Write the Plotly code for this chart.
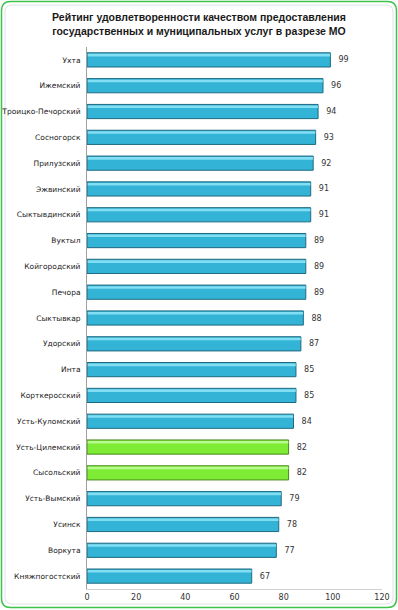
import plotly.graph_objects as go

categories = ["Ухта", "Ижемский", "Троицко-Печорский", "Сосногорск", "Прилузский",
              "Эжвинский", "Сыктывдинский", "Вуктыл", "Койгородский", "Печора",
              "Сыктывкар", "Удорский", "Инта", "Корткеросский", "Усть-Куломский",
              "Усть-Цилемский", "Сысольский", "Усть-Вымский", "Усинск", "Воркута",
              "Княжпогостский"]
values = [99, 96, 94, 93, 92, 91, 91, 89, 89, 89, 88, 87, 85, 85, 84, 82, 82, 79, 78, 77, 67]
highlighted = ["Усть-Цилемский", "Сысольский"]
x_ticks = [0, 20, 40, 60, 80, 100, 120]
title = "Рейтинг удовлетворенности качеством предоставления<br>государственных и муниципальных услуг в разрезе МО"

blue, blue_edge, blue_light = "#33b3d5", "#1d6a80", "#82def3"
green, green_edge, green_light = "#7eec35", "#4a8a1e", "#b8fa90"
colors = [green if c in highlighted else blue for c in categories]
edges = [green_edge if c in highlighted else blue_edge for c in categories]
lights = [green_light if c in highlighted else blue_light for c in categories]

L, R, T, B = 87, 16, 47, 21
W, H = 398, 610
pw, ph = W - L - R, H - T - B
BW = 0.55


def px(x):
    return (x - L) / pw


def py(y):
    return (H - B - y) / ph


def rounded(a, b, r):
    return (f"M {-a + r},{-b} L {a - r},{-b} Q {a},{-b} {a},{-b + r} "
            f"L {a},{b - r} Q {a},{b} {a - r},{b} L {-a + r},{b} "
            f"Q {-a},{b} {-a},{b - r} L {-a},{-b + r} Q {-a},{-b} {-a + r},{-b} Z")


fig = go.Figure()
fig.add_trace(go.Bar(
    y=categories, x=values, orientation="h",
    marker=dict(color=colors, line=dict(color=edges, width=1)),
    text=["  " + str(v) for v in values], textposition="outside",
    textfont=dict(family="DejaVu Sans", size=8, color="#333333"),
    cliponaxis=False, width=BW, offset=-BW / 2,
))
fig.add_trace(go.Bar(
    y=categories, x=[v - 0.4 for v in values], base=0.3, orientation="h",
    marker=dict(color=lights, line=dict(width=0)),
    width=0.1, offset=-BW / 2 + 0.04, hoverinfo="skip",
))

cx, cy = px(W / 2), py(304.5)
fig.update_layout(
    width=W, height=H,
    margin=dict(l=L, r=R, t=T, b=B),
    paper_bgcolor="white", plot_bgcolor="white",
    showlegend=False, barmode="overlay",
    title=dict(text=title, x=0.5, xanchor="center", y=1 - 21 / H, yanchor="top",
               font=dict(family="Liberation Sans", size=10.5, color="#1a1a1a", weight="bold")),
    xaxis=dict(range=[0, 120], tickvals=x_ticks, showgrid=False, zeroline=False,
               showline=True, linecolor="#d0d0d0", linewidth=1, automargin=False,
               tickfont=dict(family="DejaVu Sans", size=8, color="#333333"),
               ticks="", ticklen=0),
    yaxis=dict(autorange="reversed", showgrid=False, showline=True, automargin=False,
               linecolor="#a0a0a0", linewidth=1, ticks="outside", ticklen=4,
               tickcolor="rgba(0,0,0,0)",
               tickfont=dict(family="DejaVu Sans", size=7.5, color="#222222")),
    shapes=[
        dict(type="path", xref="paper", yref="paper", xsizemode="pixel", ysizemode="pixel",
             xanchor=cx, yanchor=cy, path=rounded(197.5, 303, 9),
             line=dict(color="#3cc44a", width=1.5), layer="below"),
        dict(type="path", xref="paper", yref="paper", xsizemode="pixel", ysizemode="pixel",
             xanchor=cx, yanchor=cy, path=rounded(194, 299.5, 7),
             line=dict(color="#dde3ea", width=1), layer="below"),
    ],
)

fig.write_html("out.html", config={"displayModeBar": False},
               post_script="document.body.style.margin='0';document.body.style.overflow='hidden';")
